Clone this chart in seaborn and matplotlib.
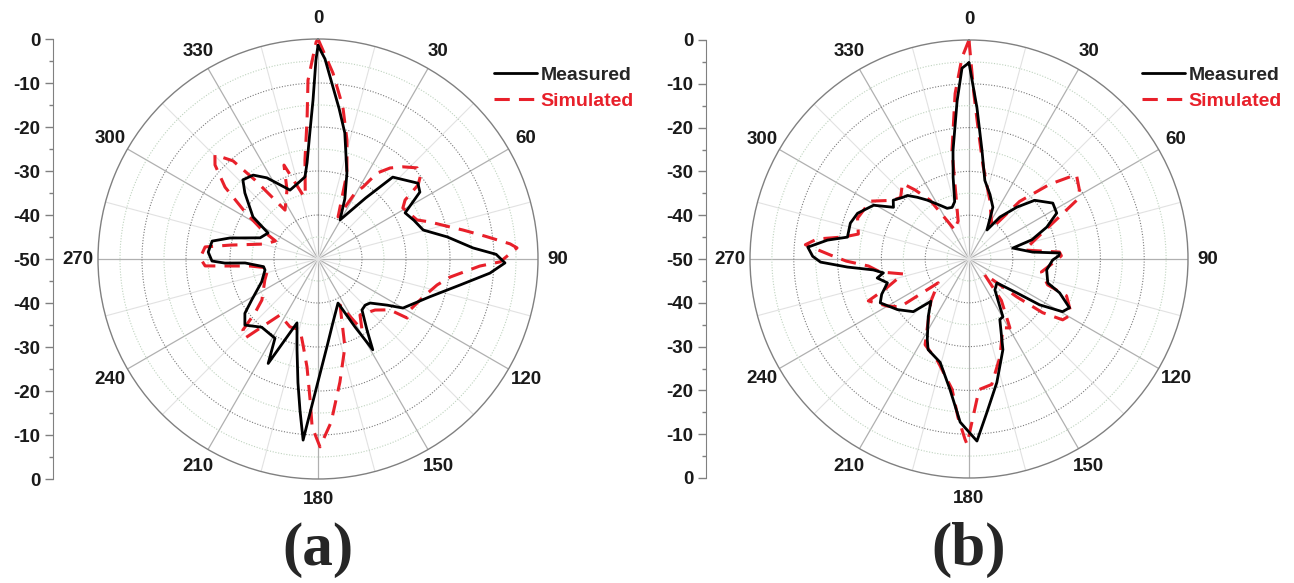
import numpy as np
import pandas as pd
import matplotlib
matplotlib.use("Agg")
import matplotlib.pyplot as plt
import seaborn as sns
from matplotlib.lines import Line2D

sns.set_style("white")
plt.rcParams['font.family'] = ['Liberation Sans', 'DejaVu Sans']

# ---- panel (a) ----
a_meas_ang = [0, 2, 4.5, 8, 12, 18.6, 24, 29.4, 38, 42.4, 47.8, 52.8, 56.7, 62.1, 68, 74.6,
              80.3, 85.9, 88.5, 91.2, 94.7, 100.4, 108.7, 120, 123.7, 130.2, 134.4, 139.2,
              145.4, 148.9, 151.4, 155.6, 167.1, 173.6, 178.7, 181.8, 183.9, 184.7, 186.8,
              189.2, 193, 198.2, 205.5, 208.5, 219.5, 227.9, 233.4, 238.3, 248, 258.3, 262,
              266.9, 267.5, 268.9, 273.6, 279.6, 283.4, 290.1, 297.5, 302.9, 312.1, 316.5,
              322.3, 327.8, 337.9, 344.4, 351, 353.5, 356.5, 358.2, 359.4, 360]
a_meas_db = [-1.5, -4.5, -9.9, -15.5, -20.7, -29.4, -35, -39.8, -32.4, -24.8, -23.3, -21.5,
             -22.3, -27.6, -26.5, -25.2, -20.2, -14.7, -9.5, -7.5, -10.8, -17.2, -23.2, -27.7,
             -31.1, -34.5, -35, -34.7, -30.4, -25.9, -32.4, -39, -35, -30.5, -24.4, -18.2,
             -11.9, -8.7, -15.4, -21.5, -28.8, -34.7, -23.7, -29.5, -29.9, -27.6, -29.3,
             -32.3, -36.2, -37.7, -37.5, -33.4, -28.8, -25.9, -25, -25.6, -29.4, -36, -37.2,
             -32.4, -27.6, -25.2, -25.9, -28.2, -33.1, -32.3, -31.1, -28, -20.6, -13.9, -4.8,
             -1.5]
a_sim_ang = [0, 4.6, 9.3, 13.7, 18.6, 25.5, 29.3, 32, 34.5, 38.4, 42.7, 47.4, 51.2, 53.5,
             55.9, 59, 68.5, 71.7, 76.4, 78.7, 82.2, 85.5, 86.8, 90.9, 92.5, 97.8, 102.3,
             109.9, 119, 123.5, 125.3, 131.8, 143.1, 148.2, 154.4, 163, 169.9, 175.4, 179.4,
             182, 183.2, 185.8, 189.9, 194.2, 202.4, 214.2, 218.8, 222.7, 226.6, 229.4,
             233.8, 248.4, 259.8, 264.1, 265.7, 266.5, 270.5, 276.1, 279, 285.8, 293, 297,
             302.8, 307.7, 312.4, 315.3, 319.1, 321.4, 323.1, 326, 335.8, 340.1, 346.8,
             348.5, 352.5, 355.5, 356.8, 359.5, 360]
a_sim_db = [0, -7.6, -15, -22.2, -29.4, -39.4, -32.8, -30.7, -26.3, -23.6, -21.5, -19.4,
            -20.2, -21.7, -26.1, -27.5, -25.8, -23.2, -19.1, -16.4, -11.7, -6.2, -4.7, -8.6,
            -13.2, -19.7, -22.3, -24.6, -26.1, -25.7, -30, -32.6, -34.1, -31, -38.4, -29.1,
            -21.6, -12.8, -7.3, -11.8, -17.9, -25.3, -30.2, -33.4, -33.3, -34.6, -30.8,
            -25.5, -26.5, -31.1, -34.2, -37, -38.5, -34.5, -28.8, -24.3, -23.2, -24.2,
            -29.8, -37.5, -39.5, -36, -30.3, -23.3, -18.3, -16.7, -20.5, -27, -31.8, -36.6,
            -32.8, -27.3, -35.1, -35.5, -27.3, -18.3, -9.3, -0.7, 0]

# ---- panel (b) ----
b_meas_ang = [0, 3, 6.8, 11.4, 18, 24.8, 31.8, 36.4, 42.7, 48.2, 56.3, 62.4, 67.7, 73, 76,
              83.8, 86.2, 88, 90.7, 98, 106.9, 110.5, 115.9, 119.4, 123, 125.3, 130.6, 140,
              149.6, 153, 159.5, 167.3, 173.3, 177.5, 183.1, 188.3, 195.6, 204.3, 207.4,
              215.3, 222, 226.6, 234.7, 243.7, 248, 253.7, 258.3, 260.8, 263.5, 266.2,
              268.8, 271, 274.2, 277.6, 280.2, 286.8, 292.3, 299.4, 304.4, 307.8, 313.2,
              315.9, 320, 324.6, 331.8, 336.7, 341.9, 346, 349, 351.6, 355.7, 357.9, 360]
b_meas_db = [-5.2, -15.4, -25, -31.7, -34.5, -37, -42.2, -38.1, -33.9, -29.9, -27, -27.4,
             -30.8, -35, -39.7, -35.4, -29.3, -29.5, -30.9, -32.1, -31.2, -27.9, -24.5,
             -25.5, -30.8, -36.6, -41.6, -40.8, -34.7, -34.5, -27.9, -21.1, -14.8, -8.4,
             -12.7, -19.9, -25.5, -27.3, -29.3, -33.9, -37, -32.5, -30, -27.4, -28.5,
             -30.6, -28.6, -30.2, -28, -22.2, -16.1, -14.3, -13.1, -17.4, -21.8, -21.7,
             -22.5, -25, -29.1, -28.1, -29.4, -29.8, -31.6, -33.5, -36.1, -37.4, -37.6,
             -36.5, -31, -25, -13.8, -6.4, -5.2]
b_sim_ang = [0, 1.7, 3.9, 8.5, 19.6, 36.6, 41.3, 47.2, 51.8, 58.1, 61.4, 65.9, 73.9, 80.9,
             85.6, 88, 92, 100.1, 108.2, 110.7, 118.5, 123, 126.1, 128.4, 132.1, 135, 142,
             149.3, 153.8, 162.4, 169.7, 175.6, 178.1, 180.6, 181.3, 184, 187.4, 196.8,
             207.1, 213.1, 222, 232.3, 235.2, 240, 247.4, 250.3, 257.2, 261.7, 266, 269,
             271.6, 275, 277.5, 280, 282.7, 290.1, 300.4, 307.5, 312, 318.6, 322, 326.5,
             334.2, 341, 344, 348.2, 351.1, 355.2, 358, 360]
b_sim_db = [0, -12.3, -19.9, -28.4, -35.8, -41.2, -32.5, -24.9, -18.8, -20.3, -22, -28.3,
            -34.4, -37.1, -29.3, -28.9, -30.5, -33.2, -31.1, -26.2, -23.4, -24.5, -29.2,
            -36.1, -43.6, -45, -38, -31.7, -32.5, -26.6, -20.9, -20.1, -15, -7.7, -8.9,
            -13.8, -20, -25.5, -28, -32.9, -37, -41.1, -30.9, -28.5, -25.1, -29.7, -34.6,
            -29.5, -27, -22, -18.4, -12.5, -15, -21, -24.1, -22.9, -23.9, -28, -29, -27,
            -30, -33.9, -42.7, -41.5, -41, -35.6, -24.9, -12.1, -4, 0]

angle_labels = [str(a) for a in range(0, 360, 30)]
legend_labels = ['Measured', 'Simulated']

W, H = 1294, 583
CY = 259
fig = plt.figure(figsize=(W / 100, H / 100), dpi=100)


def draw_panel(cx, R, axis_x, m_ang, m_db, s_ang, s_db, tag, leg_x):
    bottom = (H - (CY + R)) / H
    height = 2 * R / H
    ax = fig.add_axes([(cx - R) / W, bottom, 2 * R / W, height], projection='polar')
    ax.set_theta_zero_location('N')
    ax.set_theta_direction(-1)
    ax.set_rlim(-50, 0)

    ax.set_yticks([-40, -30, -20, -10])
    ax.set_yticks([-45, -35, -25, -15, -5], minor=True)
    ax.set_yticklabels([])
    ax.set_xticks(np.deg2rad(range(0, 360, 30)))
    ax.set_xticklabels(angle_labels, fontsize=13.5, fontweight='bold', color='#1a1a1a')
    ax.set_xticks(np.deg2rad(range(15, 360, 30)), minor=True)
    ax.tick_params(axis='x', pad=4)
    ax.xaxis.grid(True, which='major', color='#b0b0b0', lw=0.9, ls='-')
    ax.xaxis.grid(True, which='minor', color='#e2e2e2', lw=0.8, ls='-')
    ax.yaxis.grid(True, which='major', color='#7a7a7a', lw=0.8, ls=(0, (1, 1.5)))
    ax.yaxis.grid(True, which='minor', color='#bfd3bf', lw=0.8, ls=(0, (1, 1.5)))
    ax.spines['polar'].set_color('#808080')
    ax.spines['polar'].set_linewidth(1.0)

    dm = pd.DataFrame({'theta': np.deg2rad(m_ang), 'dB': m_db})
    ds = pd.DataFrame({'theta': np.deg2rad(s_ang), 'dB': s_db})
    sns.lineplot(data=ds, x='theta', y='dB', ax=ax, sort=False, estimator=None,
                 color='#e8202a', lw=2.2, ls=(0, (5, 3)), legend=False)
    sns.lineplot(data=dm, x='theta', y='dB', ax=ax, sort=False, estimator=None,
                 color='black', lw=2.0, legend=False)
    ax.set_xlabel('')
    ax.set_ylabel('')

    # left dB scale
    lax = fig.add_axes([axis_x / W, bottom, 0.002, height])
    lax.set_ylim(-50, 50)
    lax.set_xticks([])
    vals = list(range(-50, 51, 10))
    lax.set_yticks(vals)
    lax.set_yticklabels([str(abs(v) - 50) for v in vals], fontsize=13.5,
                        fontweight='bold', color='#1a1a1a')
    lax.set_yticks(list(range(-45, 50, 10)), minor=True)
    lax.tick_params(axis='y', which='major', direction='out', length=6, width=1,
                    color='#808080', left=True, pad=3)
    lax.tick_params(axis='y', which='minor', direction='out', length=3, width=1,
                    color='#808080', left=True)
    for s in ['top', 'right', 'bottom']:
        lax.spines[s].set_visible(False)
    lax.spines['left'].set_color('#808080')
    lax.set_facecolor('none')

    handles = [Line2D([], [], color='black', lw=2.0),
               Line2D([], [], color='#e8202a', lw=2.2, ls=(0, (5, 3)))]
    leg = fig.legend(handles, legend_labels, loc='upper left',
                     bbox_to_anchor=(leg_x / W, 1 - 66 / H), frameon=False,
                     prop={'weight': 'bold', 'size': 14}, handlelength=2.2,
                     handletextpad=0.2, labelspacing=0.45, borderpad=0,
                     borderaxespad=0)
    leg.get_texts()[1].set_color('#e8202a')

    fig.text(cx / W, 1 - 550 / H, tag, ha='center', va='center',
             fontfamily='Liberation Serif', fontweight='bold', fontsize=44)


draw_panel(318, 220, 53, a_meas_ang, a_meas_db, a_sim_ang, a_sim_db, '(a)', 494)
draw_panel(969, 219, 706, b_meas_ang, b_meas_db, b_sim_ang, b_sim_db, '(b)', 1142)

fig.savefig('out.png', dpi=100, facecolor='white')
